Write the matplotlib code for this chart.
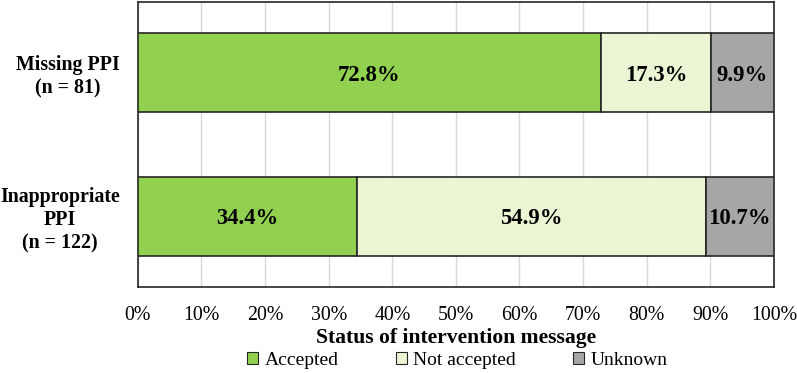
import matplotlib
matplotlib.use("Agg")
import matplotlib.pyplot as plt
import numpy as np

categories = ["Missing PPI\n(n = 81)", "Inappropriate\nPPI\n(n = 122)"]
series_names = ["Accepted", "Not accepted", "Unknown"]
accepted = [72.8, 34.4]
not_accepted = [17.3, 54.9]
unknown = [9.9, 10.7]
colors = ["#92D050", "#EBF5D3", "#A6A6A6"]
xticks = [0, 10, 20, 30, 40, 50, 60, 70, 80, 90, 100]

plt.rcParams['font.family'] = ['Liberation Serif', 'DejaVu Serif']

fig = plt.figure(figsize=(7.97, 3.73), dpi=100)
ax = fig.add_axes([0.173, 0.2306, 0.798, 0.764])

ypos = np.array([1, 0])
left = np.zeros(2)
for name, vals, col in zip(series_names, [accepted, not_accepted, unknown], colors):
    vals = np.array(vals)
    ax.barh(ypos, vals, left=left, height=0.55, color=col,
            edgecolor="#262626", linewidth=1.2, label=name, zorder=3)
    for yy, l, v in zip(ypos, left, vals):
        ax.text(l + v / 2, yy, f"{v:.1f}%", ha="center", va="center_baseline",
                fontsize=16.4, fontweight="bold", color="black", zorder=4)
    left = left + vals

ax.set_xlim(0, 100)
ax.set_ylim(-0.49, 1.49)
ax.set_xticks(xticks)
ax.set_xticklabels([f"{t}%" for t in xticks], fontsize=14.3)
ax.set_yticks(ypos)
ax.set_yticklabels(categories, fontsize=14.3, fontweight="bold", multialignment="center")
ax.tick_params(axis="both", length=0)
ax.tick_params(axis="x", pad=14)
ax.tick_params(axis="y", pad=13)
ax.grid(axis="x", color="#D9D9D9", linewidth=1, zorder=0)
for s in ax.spines.values():
    s.set_color("#262626")
    s.set_linewidth(1.2)

ax.set_xlabel("Status of intervention message", fontsize=15.6, fontweight="bold", labelpad=2)

leg = fig.legend(loc="lower center", bbox_to_anchor=(0.574, -0.035), ncol=3, frameon=False,
                 fontsize=14, handlelength=0.55, handleheight=0.55, handletextpad=0.35,
                 columnspacing=2.95)
for h in leg.legend_handles:
    h.set_linewidth(0.8)
    h.set_edgecolor("#262626")

fig.savefig("out.png", dpi=100)
